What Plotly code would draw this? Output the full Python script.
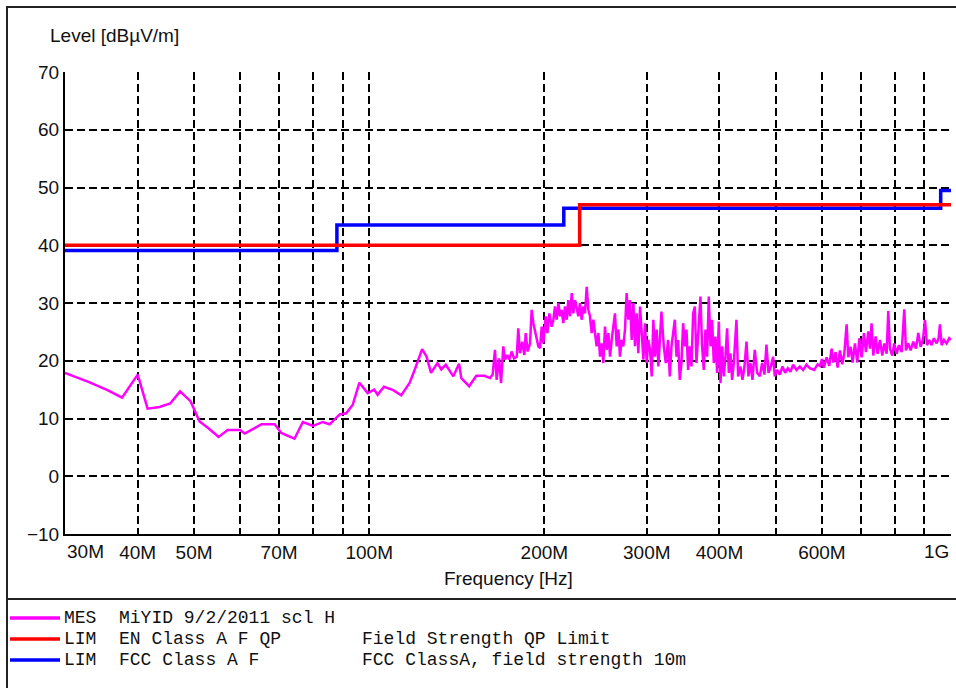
import math
import plotly.graph_objects as go

# ---------------- data ----------------
# Measurement trace (MES), frequency in MHz, level in dBuV/m
mes_freq = [
    30, 33, 35.5, 37.6, 40, 41.6, 43.6, 45.5, 47.3, 49.3, 51.1, 52.8, 55.1, 57.1, 60, 61.1, 63.2, 65.3,
    68.8, 70.6, 74.4, 76.9, 80.1, 83.2, 85.5, 89, 91.3, 93.7, 96.2, 99.4, 102, 103.4, 106, 110, 113.5,
    117.4, 120.3, 123.3, 125.5, 127.7, 131, 133, 135.4, 139.5, 142.7, 144, 148.5, 152.8, 157.8,
    161.3, 163.0, 164.5, 165.6, 167.2, 168.5, 170.0, 171.2, 172.8, 174.1, 175.7, 177.4, 179.3, 180.4,
    181.6, 183.3, 184.8, 185.8, 187.2, 189.0, 190.2, 191.5, 192.7, 194.0, 195.3, 196.6, 197.9, 199.2,
    201.1, 202.4, 204.0, 205.9, 207.3, 208.6, 210.0, 211.4, 212.8, 214.2, 215.6, 217.0, 218.5, 219.9,
    221.4, 222.9, 224.3, 225.8, 227.3, 228.8, 230.3, 231.8, 233.4, 234.9, 236.5, 238.1, 239.6, 241.2,
    242.8, 244.4, 246.0, 247.7, 249.3, 251.0, 252.6, 254.3, 256.0, 257.7, 259.4, 261.1, 262.8, 264.5,
    266.3, 268.1, 269.8, 271.6, 273.4, 275.2, 277.0, 278.9, 280.7, 282.6, 284.5, 286.3, 288.2, 290.1,
    292.1, 294.0, 296.0, 297.9, 299.9, 301.9, 303.9, 305.9, 307.9, 309.9, 312.0, 314.1,
    317.9, 320.9, 323.4, 326.4, 328.6, 330.8, 332.9, 335.2, 337.4, 339.6, 341.8, 344.1, 346.4, 348.7,
    351.0, 353.3, 355.6, 358.0, 360.4, 362.8, 365.2, 367.6, 371.0, 373.4, 375.9, 378.4, 380.9, 383.4,
    386.0, 388.5, 391.1, 393.7, 396.3, 398.9, 401.6, 404.2, 406.9, 409.6, 412.3, 415.1, 417.8, 420.5,
    423.3, 427.8, 430.6, 434.6, 438.1, 441.6, 445.1, 448.6, 452.2, 455.8, 460.0, 464.3, 469.2, 473.6,
    477.9, 481.7, 485.6, 490.1, 494.6, 497.9, 502.5, 507.8, 513.3, 518.7, 524.2, 529.8, 535.4, 542.5,
    549.7, 557.0, 564.4, 571.9, 582, 590, 595.3, 600, 604.8, 611.2, 617.7, 623.4, 627.6, 633.4, 638.4,
    644.3, 650.3, 655.5, 661.6, 665.9, 672.2, 677.4, 683.8, 690.1, 695.6, 702.1, 708.6, 714.2, 720.8,
    725.6, 730.3, 735.2, 742.1, 747.9, 754.9, 761.9, 768.0, 775.1, 780.2, 785.3, 792.6, 798.9, 806.4,
    813.8, 822.5, 831.2, 836.7, 844.5, 852.3, 861.4, 870.5, 878.6, 886.7, 894.9, 902.1, 909.3, 917.7,
    926.1, 934.7, 944.7, 952.2, 957.2, 963.6, 972.5, 982.9, 993.2, 1000,
]
mes_level = [
    17.9, 16.3, 14.9, 13.6, 17.6, 11.7, 12.0, 12.6, 14.7, 13.0, 9.5, 8.4, 6.8, 8.0, 8.0, 7.4, 8.2, 9.0,
    9.0, 7.5, 6.5, 9.4, 8.7, 9.4, 9.0, 10.7, 10.9, 12.4, 16.2, 14.4, 15.0, 14.1, 15.5, 14.9, 14.0,
    16.2, 19.0, 22.0, 20.7, 17.9, 19.6, 18.5, 19.3, 17.3, 19.5, 17.0, 15.6, 17.4, 17.4,
    17.0, 17.6, 21.9, 16.7, 20.4, 16.1, 22.5, 20.2, 21.0, 20.2, 21.6, 20.4, 20.7, 25.6,
    21.3, 23.3, 21.0, 24.8, 21.6, 23.0, 28.8, 26.5, 25.4, 24.2, 22.5, 22.2, 25.9, 23.0,
    27.7, 24.8, 28.2, 25.9, 27.1, 29.4, 27.1, 30.0, 27.7, 28.8, 26.5, 29.4, 27.1, 30.5,
    27.7, 31.7, 28.2, 30.5, 28.8, 27.7, 30.0, 27.1, 29.4, 28.2, 32.8, 28.8, 27.7, 24.8,
    27.1, 24.2, 22.5, 24.8, 20.7, 23.0, 19.6, 25.9, 21.9, 24.8, 20.7, 23.6, 25.9, 28.2,
    22.5, 25.4, 20.7, 23.6, 22.5, 25.4, 31.7, 27.1, 30.5, 23.6, 30.0, 22.5, 28.2, 21.3,
    29.4, 24.2, 20.2, 26.5, 19.6, 23.6, 21.9, 17.3, 27.1, 20.7, 25.4, 19.0,
    28.5, 22.5, 19.6, 23.6, 17.3, 22.5, 24.8, 27.1, 20.7, 23.6, 16.7, 19.6, 26.5, 22.5,
    25.4, 18.4, 22.5, 19.0, 28.2, 29.4, 19.6, 24.8, 31.1, 22.5, 18.4, 25.4, 20.7, 31.1,
    22.5, 27.1, 19.6, 24.2, 17.9, 26.8, 16.1, 22.5, 17.3, 20.7, 25.6, 17.9, 21.3, 16.7,
    19.6, 27.1, 17.3, 19.0, 16.7, 19.0, 23.3, 17.3, 19.6, 16.7, 21.9, 17.9, 17.3, 19.6,
    17.6, 22.8, 17.9, 19.0, 20.7, 17.3, 18.4, 17.6, 19.0, 17.9, 18.7, 18.1, 19.3, 18.4,
    19.0, 18.4, 19.3, 18.7, 18.4, 19.4, 19.1, 20.3, 18.8, 20.6, 19.1, 22.1, 19.7, 21.5, 18.8,
    21.8, 19.4, 21.2, 26.3, 20.6, 22.4, 19.7, 23.0, 19.7, 23.9, 20.6, 24.8, 21.5, 25.1,
    22.1, 26.5, 20.9, 24.2, 21.2, 23.6, 20.9, 23.0, 21.2, 28.6, 22.1, 20.9, 23.0, 21.2,
    22.7, 21.5, 28.9, 21.8, 23.0, 21.8, 23.3, 22.1, 24.8, 22.4, 23.6, 27.1, 22.7, 23.6,
    22.7, 23.9, 23.0, 23.9, 26.3, 22.7, 23.6, 23.0, 23.9, 23.6,
]

# Limit lines (step functions)
en_freq = [30, 230, 1000]
en_level = [40, 47, 47]
fcc_freq = [30, 88, 216, 960, 1000]
fcc_level = [39.1, 43.5, 46.4, 49.5, 49.5]

# Axis ticks
grid_freqs = [40, 50, 60, 70, 80, 90, 100, 200, 300, 400, 500, 600, 700, 800, 900, 1000]
grid_labels = ["40M", "50M", "", "70M", "", "", "100M", "200M", "300M", "400M", "", "600M", "", "", "", ""]
edge_freqs = [30, 1000]
edge_labels = ["30M", "1G"]
y_ticks = [-10, 0, 10, 20, 30, 40, 50, 60, 70]

# Legend rows
legend_colors = ["#ff00ff", "#ff0000", "#0000ff"]
legend_kind = ["MES", "LIM", "LIM"]
legend_name = ["MiYID 9/2/2011 scl H", "EN Class A F QP", "FCC Class A F"]
legend_desc = ["", "Field Strength QP Limit", "FCC ClassA, field strength 10m"]

# ---------------- figure ----------------
W, H = 956, 688
L, R, T, B = 65, 5, 72, 154
PW = W - L - R
PH = H - T - B

def px(xp):
    return (xp - L) / PW

def py(yp):
    return (H - B - yp) / PH

fig = go.Figure()
fig.add_trace(go.Scatter(x=mes_freq, y=mes_level, mode="lines",
                         line=dict(color="#ff00ff", width=2.5), name="MES"))
fig.add_trace(go.Scatter(x=fcc_freq, y=fcc_level, mode="lines", line_shape="hv",
                         line=dict(color="#0000ff", width=3.5), name="FCC"))
fig.add_trace(go.Scatter(x=en_freq, y=en_level, mode="lines", line_shape="hv",
                         line=dict(color="#ff0000", width=3.5), name="EN"))

tick_font = dict(family="Liberation Sans, Arial", size=19, color="#111")
mono = dict(family="Liberation Mono, Courier New, monospace", size=18, color="#111")

fig.update_layout(
    width=W, height=H,
    margin=dict(l=L, r=R, t=T, b=B, pad=0),
    paper_bgcolor="white", plot_bgcolor="white",
    showlegend=False,
    xaxis=dict(
        type="log", range=[math.log10(30), math.log10(1000)],
        tickvals=grid_freqs, ticktext=grid_labels, ticks="",
        showgrid=True, gridcolor="black", gridwidth=1.5, griddash="8px,4px",
        showline=True, linecolor="black", linewidth=2, mirror=False,
        tickfont=tick_font, zeroline=False, ticklabelstandoff=0,
    ),
    yaxis=dict(
        range=[-10, 70], tickvals=y_ticks, ticks="",
        showgrid=True, gridcolor="black", gridwidth=1.5, griddash="8px,4px",
        showline=True, linecolor="black", linewidth=2,
        tickfont=tick_font, zeroline=False, ticklabelstandoff=0,
    ),
)

annotations = []
# edge tick labels
for f, lab, anchor in zip(edge_freqs, edge_labels, ["left", "right"]):
    annotations.append(dict(x=math.log10(f), xref="x", y=py(551), yref="paper",
                            text=lab, showarrow=False, xanchor=anchor, yanchor="middle",
                            font=tick_font))
# axis titles
annotations.append(dict(x=px(48), y=py(35), xref="paper", yref="paper", text="Level [dBµV/m]",
                        showarrow=False, xanchor="left", yanchor="middle", font=tick_font))
annotations.append(dict(x=0.5, y=py(578), xref="paper", yref="paper", text="Frequency [Hz]",
                        showarrow=False, xanchor="center", yanchor="middle", font=tick_font))

shapes = []
# outer frame and separator
shapes.append(dict(type="rect", xref="paper", yref="paper", x0=px(7), x1=px(975), y0=py(720), y1=py(7),
                   line=dict(color="#222", width=2), fillcolor="rgba(0,0,0,0)", layer="below"))
shapes.append(dict(type="line", xref="paper", yref="paper", x0=px(7), x1=px(975), y0=py(599), y1=py(599),
                   line=dict(color="#222", width=2)))

row_y = [618, 639, 660]
for i in range(3):
    shapes.append(dict(type="line", xref="paper", yref="paper", x0=px(10), x1=px(60),
                       y0=py(row_y[i]), y1=py(row_y[i]), line=dict(color=legend_colors[i], width=3.5)))
    annotations.append(dict(x=px(62), y=py(row_y[i]), xref="paper", yref="paper", text=legend_kind[i],
                            showarrow=False, xanchor="left", yanchor="middle", font=mono))
    annotations.append(dict(x=px(117), y=py(row_y[i]), xref="paper", yref="paper", text=legend_name[i],
                            showarrow=False, xanchor="left", yanchor="middle", font=mono))
    if legend_desc[i]:
        annotations.append(dict(x=px(360), y=py(row_y[i]), xref="paper", yref="paper", text=legend_desc[i],
                                showarrow=False, xanchor="left", yanchor="middle", font=mono))

fig.update_layout(annotations=annotations, shapes=shapes)
fig.write_html("out.html", config={"displayModeBar": False},
               post_script="document.body.style.margin='0';document.body.style.overflow='hidden';")
